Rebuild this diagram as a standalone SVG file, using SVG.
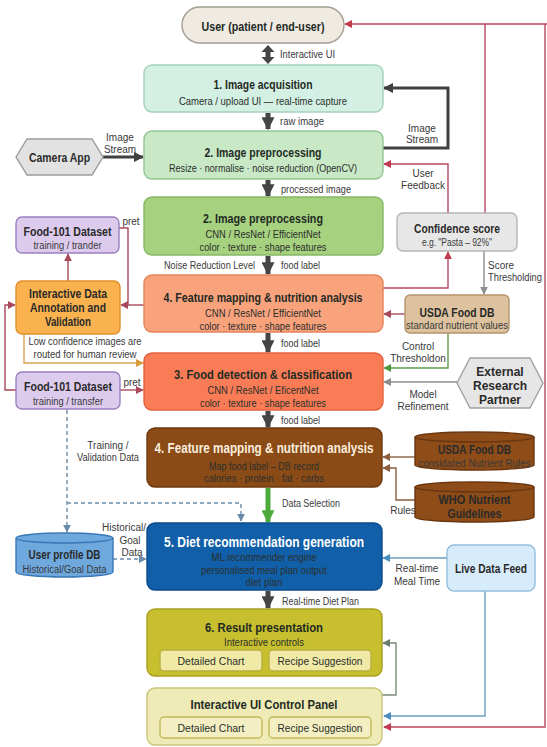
<svg xmlns="http://www.w3.org/2000/svg" width="547" height="747" viewBox="0 0 547 747">
<defs>
<style>
text{font-family:"Liberation Sans",Arial,sans-serif;text-anchor:middle}
.tt{font-size:13px;font-weight:bold;fill:#1f2a24}
.tb{font-size:14px;font-weight:bold}
.st{font-size:10.5px;fill:#2b2f2b}
.nt{font-size:12px;font-weight:bold;fill:#2a2a2a}
.ns{font-size:10px;fill:#3a3a3a}
.lb{font-size:10px;fill:#3a3a3a}
.ls{text-anchor:start}
.box{stroke-width:1.4}
.ln{fill:none;stroke-width:1.4}
.thick{fill:none;stroke:#454545;stroke-width:5}
.loop{fill:none;stroke:#404040;stroke-width:3}
.red{stroke:#b9475e}
.rb{stroke:#a9485a}
.gry{stroke:#8e8e8e}
.grn{stroke:#5e9b4e}
.org{stroke:#d9a552}
.brn{stroke:#8a5d3e}
.blu{stroke:#6b9cbd}
.dsh{stroke:#6a8ca8;stroke-dasharray:4 3}
.olv{stroke:#7b8b7b}
</style>
<marker id="mDark" viewBox="0 0 10 10" refX="9" refY="5" markerWidth="13" markerHeight="13" markerUnits="userSpaceOnUse" orient="auto"><path d="M0,0 L10,5 L0,10 z" fill="#454545"/></marker>
<marker id="mLoop" viewBox="0 0 10 10" refX="9" refY="5" markerWidth="10" markerHeight="10" markerUnits="userSpaceOnUse" orient="auto"><path d="M0,0 L10,5 L0,10 z" fill="#404040"/></marker>
<marker id="mGreenT" viewBox="0 0 10 10" refX="9" refY="5" markerWidth="13" markerHeight="13" markerUnits="userSpaceOnUse" orient="auto"><path d="M0,0 L10,5 L0,10 z" fill="#4caa3c"/></marker>
<marker id="mRed" viewBox="0 0 10 10" refX="9" refY="5" markerWidth="8" markerHeight="8" markerUnits="userSpaceOnUse" orient="auto"><path d="M0,0 L10,5 L0,10 z" fill="#c0394e"/></marker>
<marker id="mRb" viewBox="0 0 10 10" refX="9" refY="5" markerWidth="8" markerHeight="8" markerUnits="userSpaceOnUse" orient="auto"><path d="M0,0 L10,5 L0,10 z" fill="#a9485a"/></marker>
<marker id="mGry" viewBox="0 0 10 10" refX="9" refY="5" markerWidth="8" markerHeight="8" markerUnits="userSpaceOnUse" orient="auto"><path d="M0,0 L10,5 L0,10 z" fill="#8e8e8e"/></marker>
<marker id="mGrn" viewBox="0 0 10 10" refX="9" refY="5" markerWidth="8" markerHeight="8" markerUnits="userSpaceOnUse" orient="auto"><path d="M0,0 L10,5 L0,10 z" fill="#4f9a40"/></marker>
<marker id="mOrg" viewBox="0 0 10 10" refX="9" refY="5" markerWidth="8" markerHeight="8" markerUnits="userSpaceOnUse" orient="auto"><path d="M0,0 L10,5 L0,10 z" fill="#d99a3c"/></marker>
<marker id="mBrn" viewBox="0 0 10 10" refX="9" refY="5" markerWidth="8" markerHeight="8" markerUnits="userSpaceOnUse" orient="auto"><path d="M0,0 L10,5 L0,10 z" fill="#8a5d3e"/></marker>
<marker id="mBlu" viewBox="0 0 10 10" refX="9" refY="5" markerWidth="8" markerHeight="8" markerUnits="userSpaceOnUse" orient="auto"><path d="M0,0 L10,5 L0,10 z" fill="#4a8ec0"/></marker>
<marker id="mDsh" viewBox="0 0 10 10" refX="9" refY="5" markerWidth="8" markerHeight="8" markerUnits="userSpaceOnUse" orient="auto"><path d="M0,0 L10,5 L0,10 z" fill="#6a8ca8"/></marker>
<marker id="mOlv" viewBox="0 0 10 10" refX="9" refY="5" markerWidth="8" markerHeight="8" markerUnits="userSpaceOnUse" orient="auto"><path d="M0,0 L10,5 L0,10 z" fill="#6b7b6b"/></marker>
</defs>

<rect width="547" height="747" fill="#ffffff"/>

<!-- connectors -->
<g id="connectors">
  <!-- main column flow -->
  <polygon points="268,45 274.5,52 270.5,52 270.5,57 274.5,57 268,64 261.5,57 265.5,57 265.5,52 261.5,52" fill="#454545"/>
  <line class="thick" x1="268" y1="113" x2="268" y2="129" marker-end="url(#mDark)"/>
  <line class="thick" x1="268" y1="180" x2="268" y2="196" marker-end="url(#mDark)"/>
  <line class="thick" x1="268" y1="256" x2="268" y2="274" marker-end="url(#mDark)"/>
  <line class="thick" x1="268" y1="333" x2="268" y2="352" marker-end="url(#mDark)"/>
  <line class="thick" x1="268" y1="411" x2="268" y2="427" marker-end="url(#mDark)"/>
  <line fill="none" stroke="#4caa3c" stroke-width="5" x1="268" y1="488" x2="268" y2="522" marker-end="url(#mGreenT)"/>
  <line class="thick" x1="268" y1="591" x2="268" y2="608" marker-end="url(#mDark)"/>

  <!-- camera stream and image stream loop -->
  <path class="loop" d="M103,157 H143" marker-end="url(#mLoop)"/>
  <path class="loop" d="M383,148 H448 V88 H384" marker-end="url(#mLoop)"/>

  <!-- feedback around confidence score -->
  <path class="ln red" d="M448,213 V164 H384" marker-end="url(#mRed)"/>
  <path class="ln red" d="M383,288 H448 V252" marker-end="url(#mRed)"/>
  <path class="ln red" d="M485,213 V24 H345" marker-end="url(#mRed)"/>
  <path class="ln red" d="M547,24 H485"/>
  <path class="ln red" d="M545,24 V727 H384" marker-end="url(#mRed)"/>
  <path class="ln gry" d="M484,251 V294" marker-end="url(#mGry)"/>
  <path class="ln rb" d="M405,314 H384" marker-end="url(#mRb)"/>
  <path class="ln grn" d="M448,333 V368 H384" marker-end="url(#mGrn)"/>
  <path class="ln gry" d="M457,382 H384" marker-end="url(#mGry)"/>

  <!-- annotation / dataset loops -->
  <path class="ln rb" d="M119,228 H128 V305"/>
  <path class="ln rb" d="M144,305 H121" marker-end="url(#mRb)"/>
  <path class="ln rb" d="M68,281 V254" marker-end="url(#mRb)"/>
  <path class="ln rb" d="M16,390 H5 V305 H15" marker-end="url(#mRb)"/>
  <path class="ln org" d="M24,334 V363 H143" marker-end="url(#mOrg)"/>
  <path class="ln rb" d="M120,390 H143" marker-end="url(#mRb)"/>

  <!-- training data and user profile -->
  <path class="ln dsh" d="M67,410 V532" marker-end="url(#mDsh)"/>
  <path class="ln dsh" d="M67,503 H241 V521" marker-end="url(#mDsh)"/>
  <path class="ln dsh" d="M113,559 H146" marker-end="url(#mDsh)"/>

  <!-- nutrient databases -->
  <path class="ln brn" d="M415,457 H383" marker-end="url(#mBrn)"/>
  <path class="ln brn" d="M415,500 H396 V468 H383" marker-end="url(#mBrn)"/>

  <!-- live data feed -->
  <path class="ln blu" d="M447,558 H383" marker-end="url(#mBlu)"/>
  <path class="ln blu" d="M485,591 V716 H384" marker-end="url(#mBlu)"/>

  <!-- control panel to result presentation -->
  <path class="ln olv" d="M382,695 H396 V643 H383" marker-end="url(#mOlv)"/>

  <!-- connector labels -->
  <text class="lb ls" x="280" y="57.5" textLength="55" lengthAdjust="spacingAndGlyphs">Interactive UI</text>
  <text class="lb ls" x="280" y="124.5" textLength="44" lengthAdjust="spacingAndGlyphs">raw image</text>
  <text class="lb ls" x="281" y="192.5" textLength="70" lengthAdjust="spacingAndGlyphs">processed image</text>
  <text class="lb ls" x="164" y="268.5" textLength="91" lengthAdjust="spacingAndGlyphs">Noise Reduction Level</text>
  <text class="lb ls" x="281" y="268.5" textLength="39" lengthAdjust="spacingAndGlyphs">food label</text>
  <text class="lb ls" x="281" y="346.5" textLength="39" lengthAdjust="spacingAndGlyphs">food label</text>
  <text class="lb ls" x="281" y="423.5" textLength="39" lengthAdjust="spacingAndGlyphs">food label</text>
  <text class="lb ls" x="282" y="506.5" textLength="58" lengthAdjust="spacingAndGlyphs">Data Selection</text>
  <text class="lb ls" x="282" y="604.5" textLength="77" lengthAdjust="spacingAndGlyphs">Real-time Diet Plan</text>
  <text class="lb" x="120" y="140.5">Image</text>
  <text class="lb" x="120" y="152.5">Stream</text>
  <text class="lb" x="422" y="131.5">Image</text>
  <text class="lb" x="422" y="142.5">Stream</text>
  <text class="lb" x="423" y="176.5">User</text>
  <text class="lb" x="423" y="188.5">Feedback</text>
  <text class="lb ls" x="488" y="268.5">Score</text>
  <text class="lb ls" x="488" y="280.5" textLength="54" lengthAdjust="spacingAndGlyphs">Thresholding</text>
  <text class="lb" x="418" y="349.5">Control</text>
  <text class="lb" x="418" y="361.5">Thresholdon</text>
  <text class="lb" x="423" y="397.5">Model</text>
  <text class="lb" x="423" y="409.5">Refinement</text>
  <text class="lb" x="131" y="225" font-size="9.5">pret</text>
  <text class="lb" x="132" y="386" font-size="9.5">pret</text>
  <text class="lb" x="85" y="344.5" textLength="113" lengthAdjust="spacingAndGlyphs">Low confidence images are</text>
  <text class="lb" x="85" y="357.5" textLength="103" lengthAdjust="spacingAndGlyphs">routed for human review</text>
  <text class="lb" x="108" y="448.5">Training /</text>
  <text class="lb" x="108" y="460.5" textLength="62" lengthAdjust="spacingAndGlyphs">Validation Data</text>
  <text class="lb" x="124" y="530.5">Historical/</text>
  <text class="lb" x="130" y="543.5">Goal</text>
  <text class="lb" x="132" y="555.5">Data</text>
  <text class="lb" x="403" y="513.5">Rules</text>
  <text class="lb" x="417" y="571.5">Real-time</text>
  <text class="lb" x="417" y="584.5">Meal Time</text>
</g>

<!-- user -->
<g id="user">
  <rect class="box" x="182" y="7" width="162" height="36" rx="18" fill="#efebe3" stroke="#a39d92"/>
  <text class="tt" x="263" y="30.5" font-size="13.5" textLength="123" lengthAdjust="spacingAndGlyphs">User (patient / end-user)</text>
</g>

<!-- 1. image acquisition -->
<g id="image-acquisition">
  <rect class="box" x="144" y="65" width="239" height="47" rx="8" fill="#d4efe3" stroke="#a4d2bd"/>
  <text class="tt" x="263" y="88.5" textLength="99" lengthAdjust="spacingAndGlyphs">1. Image acquisition</text>
  <text class="st" x="263" y="104.7" textLength="168" lengthAdjust="spacingAndGlyphs">Camera / upload UI — real-time capture</text>
</g>

<!-- 2. image preprocessing (light) -->
<g id="image-preprocessing">
  <rect class="box" x="144" y="131" width="239" height="48" rx="8" fill="#c8e8c6" stroke="#93c690"/>
  <text class="tt" x="263" y="156.5" textLength="117" lengthAdjust="spacingAndGlyphs">2. Image preprocessing</text>
  <text class="st" x="263" y="171.7" textLength="188" lengthAdjust="spacingAndGlyphs">Resize · normalise · noise reduction (OpenCV)</text>
</g>

<!-- 2. image preprocessing (feature extraction) -->
<g id="image-preprocessing-features">
  <rect class="box" x="144" y="197" width="239" height="58" rx="8" fill="#a6d27f" stroke="#86b865"/>
  <text class="tt" x="263" y="222.5" textLength="120" lengthAdjust="spacingAndGlyphs">2. Image preprocessing</text>
  <text class="st" x="263" y="237.7" textLength="115" lengthAdjust="spacingAndGlyphs">CNN / ResNet / EfficientNet</text>
  <text class="st" x="263" y="250.7" textLength="127" lengthAdjust="spacingAndGlyphs">color · texture · shape features</text>
</g>

<!-- 4. feature mapping (salmon) -->
<g id="feature-mapping-a">
  <rect class="box" x="144" y="275" width="239" height="57" rx="8" fill="#f9a37d" stroke="#e5845b"/>
  <text class="tt" x="263" y="301.5" fill="#2e1c14" textLength="199" lengthAdjust="spacingAndGlyphs">4. Feature mapping &amp; nutrition analysis</text>
  <text class="st" x="263" y="316.7" fill="#6a2a1c" textLength="116" lengthAdjust="spacingAndGlyphs">CNN / ResNet / EfficientNet</text>
  <text class="st" x="263" y="329.7" fill="#6a2a1c" textLength="127" lengthAdjust="spacingAndGlyphs">color · texture · shape features</text>
</g>

<!-- 3. food detection -->
<g id="food-detection">
  <rect class="box" x="144" y="353" width="239" height="57" rx="8" fill="#f97c56" stroke="#e4623e"/>
  <text class="tt" x="263" y="378.5" fill="#2e1610" textLength="178" lengthAdjust="spacingAndGlyphs">3. Food detection &amp; classification</text>
  <text class="st" x="263" y="393.7" fill="#5e1e12" textLength="111" lengthAdjust="spacingAndGlyphs">CNN / ResNet / EficentNet</text>
  <text class="st" x="263" y="406.7" fill="#5e1e12" textLength="126" lengthAdjust="spacingAndGlyphs">color · texture · shape features</text>
</g>

<!-- 4. feature mapping (brown) -->
<g id="feature-mapping-b">
  <rect class="box" x="147" y="428" width="235" height="59" rx="8" fill="#8b4b17" stroke="#6e3a10"/>
  <text class="tb" x="264" y="453" fill="#fbeedd" textLength="219" lengthAdjust="spacingAndGlyphs">4. Feature mapping &amp; nutrition analysis</text>
  <text class="st" x="264" y="469.7" fill="#f1dcc4" textLength="110" lengthAdjust="spacingAndGlyphs">Map food label – DB record</text>
  <text class="st" x="264" y="481.7" fill="#f1dcc4" textLength="120" lengthAdjust="spacingAndGlyphs">calories · protein · fat · carbs</text>
</g>

<!-- 5. diet recommendation -->
<g id="diet-recommendation">
  <rect class="box" x="147" y="523" width="235" height="67" rx="8" fill="#115fa8" stroke="#0b4a8a"/>
  <text class="tb" x="264" y="547" fill="#ffffff" textLength="200" lengthAdjust="spacingAndGlyphs">5. Diet recommendation generation</text>
  <text class="st" x="264" y="560.7" fill="#e2eefa" textLength="105" lengthAdjust="spacingAndGlyphs">ML recommender engine</text>
  <text class="st" x="264" y="573.7" fill="#e2eefa" textLength="126" lengthAdjust="spacingAndGlyphs">personalised meal plan output</text>
  <text class="st" x="264" y="585.7" fill="#e2eefa" textLength="37" lengthAdjust="spacingAndGlyphs">diet plan</text>
</g>

<!-- 6. result presentation -->
<g id="result-presentation">
  <rect class="box" x="147" y="609" width="235" height="67" rx="8" fill="#c8bf2e" stroke="#a8a01f"/>
  <text class="tt" x="264" y="631.5" font-size="13.5" textLength="118" lengthAdjust="spacingAndGlyphs">6. Result presentation</text>
  <text class="st" x="264" y="645.7" textLength="80" lengthAdjust="spacingAndGlyphs">Interactive controls</text>
  <rect class="box" x="160" y="650" width="102" height="21" rx="4" fill="#f1eaa6" stroke="#b7ae3e"/>
  <text class="st" x="211" y="665" font-size="12" textLength="67" lengthAdjust="spacingAndGlyphs">Detailed Chart</text>
  <rect class="box" x="269" y="650" width="102" height="21" rx="4" fill="#f1eaa6" stroke="#b7ae3e"/>
  <text class="st" x="320" y="665" font-size="12" textLength="85" lengthAdjust="spacingAndGlyphs">Recipe Suggestion</text>
</g>

<!-- interactive UI control panel -->
<g id="control-panel">
  <rect class="box" x="147" y="688" width="235" height="57" rx="8" fill="#eeebb7" stroke="#cbc37b"/>
  <text class="tt" x="264" y="708.5" font-size="13.5" textLength="147" lengthAdjust="spacingAndGlyphs">Interactive UI Control Panel</text>
  <rect class="box" x="160" y="717" width="102" height="21" rx="4" fill="#f3efc2" stroke="#c2b95a"/>
  <text class="st" x="211" y="732" font-size="12" textLength="67" lengthAdjust="spacingAndGlyphs">Detailed Chart</text>
  <rect class="box" x="269" y="717" width="102" height="21" rx="4" fill="#f3efc2" stroke="#c2b95a"/>
  <text class="st" x="320" y="732" font-size="12" textLength="85" lengthAdjust="spacingAndGlyphs">Recipe Suggestion</text>
</g>

<!-- camera app -->
<g id="camera-app">
  <polygon class="box" points="16,157 27,139 92,139 103,157 92,175 27,175" fill="#e2e2e2" stroke="#9c9c9c"/>
  <text class="nt" x="59.5" y="161.5" textLength="61" lengthAdjust="spacingAndGlyphs">Camera App</text>
</g>

<!-- food-101 dataset (upper) -->
<g id="food101-upper">
  <rect class="box" x="16" y="217" width="103" height="36" rx="6" fill="#ddcbee" stroke="#9b80c0"/>
  <text class="nt" x="67.5" y="236" fill="#2e2446" textLength="88" lengthAdjust="spacingAndGlyphs">Food-101 Dataset</text>
  <text class="ns" x="67.5" y="248.5" fill="#5a4a74" textLength="68" lengthAdjust="spacingAndGlyphs">training / trander</text>
</g>

<!-- interactive data annotation -->
<g id="annotation">
  <rect class="box" x="16" y="281" width="104" height="53" rx="6" fill="#f9b24e" stroke="#df912e"/>
  <text class="nt" x="68" y="298" fill="#4a2e10" textLength="78" lengthAdjust="spacingAndGlyphs">Interactive Data</text>
  <text class="nt" x="68" y="312" fill="#4a2e10" textLength="76" lengthAdjust="spacingAndGlyphs">Annotation and</text>
  <text class="nt" x="68" y="326" fill="#4a2e10" textLength="46" lengthAdjust="spacingAndGlyphs">Validation</text>
</g>

<!-- food-101 dataset (lower) -->
<g id="food101-lower">
  <rect class="box" x="16" y="372" width="104" height="37" rx="6" fill="#ddcbee" stroke="#9b80c0"/>
  <text class="nt" x="68" y="391" fill="#2e2446" textLength="88" lengthAdjust="spacingAndGlyphs">Food-101 Dataset</text>
  <text class="ns" x="68" y="404.5" fill="#5a4a74" textLength="70" lengthAdjust="spacingAndGlyphs">training / transfer</text>
</g>

<!-- user profile database -->
<g id="user-profile-db">
  <path class="box" d="M16,538 A48.5,5 0 0,1 113,538 V572 A48.5,5 0 0,1 16,572 Z" fill="#6fa8dd" stroke="#3a78b8"/>
  <path class="ln" d="M16,538 A48.5,5 0 0,0 113,538" stroke="#3a78b8"/>
  <text class="nt" x="64.5" y="559" fill="#0f3866" textLength="72" lengthAdjust="spacingAndGlyphs">User profile DB</text>
  <text class="ns" x="64.5" y="572.5" fill="#1a4a80" textLength="84" lengthAdjust="spacingAndGlyphs">Historical/Goal Data</text>
</g>

<!-- confidence score -->
<g id="confidence-score">
  <rect class="box" x="397" y="213" width="120" height="38" rx="6" fill="#e7e7e7" stroke="#b5b5b5"/>
  <text class="nt" x="457" y="233" textLength="86" lengthAdjust="spacingAndGlyphs">Confidence score</text>
  <text class="ns" x="457" y="245.5" textLength="70" lengthAdjust="spacingAndGlyphs">e.g. "Pasta – 92%"</text>
</g>

<!-- usda food db (standard values) -->
<g id="usda-standard">
  <rect class="box" x="405" y="295" width="104" height="38" rx="5" fill="#dcc29e" stroke="#b5936c"/>
  <text class="nt" x="457" y="316.5" font-size="12.5" fill="#3c2816" textLength="75" lengthAdjust="spacingAndGlyphs">USDA Food DB</text>
  <text class="ns" x="457" y="328.5" fill="#6a4828" textLength="102" lengthAdjust="spacingAndGlyphs">standard nutrient values</text>
</g>

<!-- external research partner -->
<g id="external-partner">
  <polygon class="box" points="457,383 470,358 530,358 543,383 530,408 470,408" fill="#e6e6e6" stroke="#a2a2a2"/>
  <text class="nt" x="500" y="376">External</text>
  <text class="nt" x="500" y="390">Research</text>
  <text class="nt" x="500" y="404">Partner</text>
</g>

<!-- usda food db (consolidated rules) -->
<g id="usda-rules">
  <path class="box" d="M415,437 A59.5,5 0 0,1 534,437 V465 A59.5,5 0 0,1 415,465 Z" fill="#8d4c18" stroke="#6a3610"/>
  <path class="ln" d="M415,437 A59.5,5 0 0,0 534,437" stroke="#6a3610"/>
  <text class="nt" x="474.5" y="453.5" font-size="12.5" fill="#f8e6cc" textLength="73" lengthAdjust="spacingAndGlyphs">USDA Food DB</text>
  <text class="ns" x="474.5" y="466.5" fill="#efd8bc" textLength="112" lengthAdjust="spacingAndGlyphs">considated Nutrient Rules</text>
</g>

<!-- who nutrient guidelines -->
<g id="who-guidelines">
  <path class="box" d="M415,487 A59.5,5 0 0,1 534,487 V517 A59.5,5 0 0,1 415,517 Z" fill="#8d4c18" stroke="#6a3610"/>
  <path class="ln" d="M415,487 A59.5,5 0 0,0 534,487" stroke="#6a3610"/>
  <text class="nt" x="474.5" y="503.5" font-size="12.5" fill="#f8e6cc" textLength="72" lengthAdjust="spacingAndGlyphs">WHO Nutrient</text>
  <text class="nt" x="474.5" y="517.5" font-size="12.5" fill="#f8e6cc" textLength="54" lengthAdjust="spacingAndGlyphs">Guidelines</text>
</g>

<!-- live data feed -->
<g id="live-data-feed">
  <rect class="box" x="447" y="545" width="88" height="46" rx="7" fill="#d7ecfb" stroke="#92bfdd"/>
  <text class="nt" x="491" y="573" textLength="72" lengthAdjust="spacingAndGlyphs">Live Data Feed</text>
</g>
</svg>
